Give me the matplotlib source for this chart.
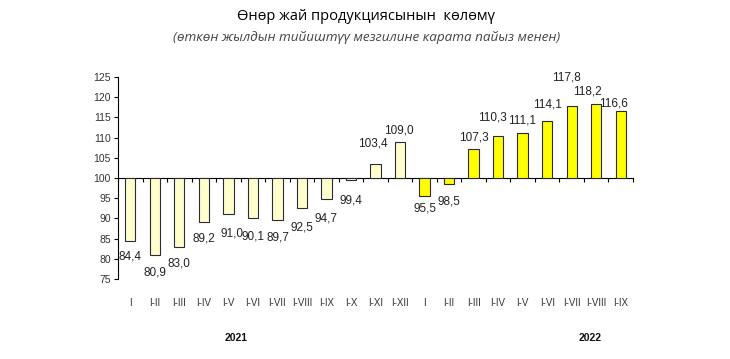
import numpy as np
import matplotlib
matplotlib.use("Agg")
import matplotlib.pyplot as plt
import matplotlib.transforms as mtransforms

# Data
months = ['I', 'I-II', 'I-III', 'I-IV', 'I-V', 'I-VI', 'I-VII', 'I-VIII', 'I-IX', 'I-X', 'I-XI', 'I-XII',
          'I', 'I-II', 'I-III', 'I-IV', 'I-V', 'I-VI', 'I-VII', 'I-VIII', 'I-IX']
values_2021 = [84.4, 80.9, 83.0, 89.2, 91.0, 90.1, 89.7, 92.5, 94.7, 99.4, 103.4, 109.0]
values_2022 = [95.5, 98.5, 107.3, 110.3, 111.1, 114.1, 117.8, 118.2, 116.6]
years = ['2021', '2022']
y_ticks = [75, 80, 85, 90, 95, 100, 105, 110, 115, 120, 125]

# label offsets from bar end (pixels): (dx, dy)
label_shift = [(0, 15), (0, 17), (0, 17), (0, 17), (4, 19), (0, 19), (1, 18), (0, 19), (0, 19), (0, 20),
               (-3, 21), (-1, 11),
               (0, 12), (0, 17), (0, 11.5), (-6, 19), (-1, 13), (0, 17), (-5, 29), (-9, 12.5), (-7, 7)]

values = values_2021 + values_2022
colors = ['#FFFFCC'] * len(values_2021) + ['#FFFF00'] * len(values_2022)
base = 100

fig = plt.figure(figsize=(7.3, 3.59), dpi=100)
ax = fig.add_axes([118 / 730, 1 - 279 / 359, (633 - 118) / 730, (279 - 77) / 359])

x = np.arange(len(values))
heights = [v - base for v in values]
bars = ax.bar(x, heights, bottom=base, width=0.42, color=colors,
              edgecolor='#2a2a3a', linewidth=0.8, zorder=3)

ax.set_xlim(-0.5, len(values) - 0.5)
ax.set_ylim(75, 125)
ax.set_yticks(y_ticks)
ax.tick_params(axis='y', direction='out', length=3, width=0.8, labelsize=7.5,
               labelcolor='#333333', pad=2)
for lab in ax.get_yticklabels():
    lab.set_fontfamily('Liberation Sans')

ax.spines['top'].set_visible(False)
ax.spines['right'].set_visible(False)
ax.spines['bottom'].set_position(('data', base))
ax.spines['left'].set_linewidth(0.8)
ax.spines['bottom'].set_linewidth(0.8)
ax.set_xticks(np.arange(len(values) + 1) - 0.5)
ax.set_xticklabels([])
ax.tick_params(axis='x', direction='out', length=3, width=0.8)

# data labels
for i, v in enumerate(values):
    dx, dy = label_shift[i]
    if v < base:
        off = (dx * 0.72, -dy * 0.72)
    else:
        off = (dx * 0.72, dy * 0.72)
    ax.annotate(f'{v:.1f}'.replace('.', ','), xy=(i, v), xytext=off,
                textcoords='offset points', ha='center', va='center',
                fontsize=8.5, color='#222222', family='Liberation Sans')

# category labels at bottom
trans = mtransforms.blended_transform_factory(ax.transData, fig.transFigure)
for i, m in enumerate(months):
    ax.text(i, 1 - 303 / 359, m, transform=trans, ha='center', va='center',
            fontsize=7, color='#333333', family='Liberation Sans')

# year labels
fig.text(236 / 730, 1 - 338 / 359, years[0], ha='center', va='center',
         fontsize=7.5, fontweight='bold', family='Liberation Sans', color='#111111')
fig.text(590 / 730, 1 - 338 / 359, years[1], ha='center', va='center',
         fontsize=7.5, fontweight='bold', family='Liberation Sans', color='#111111')

fig.text(366 / 730, 1 - 17 / 359, 'Өнөр жай продукциясынын  көлөмү', ha='center', va='center',
         fontsize=10.5, family='Open Sans', color='#000000')
fig.text(367 / 730, 1 - 37 / 359, '(өткөн жылдын тийиштүү мезгилине карата пайыз менен)',
         ha='center', va='center', fontsize=9.7, style='italic', family='Open Sans', color='#444444')

fig.savefig('out.png', dpi=100)
